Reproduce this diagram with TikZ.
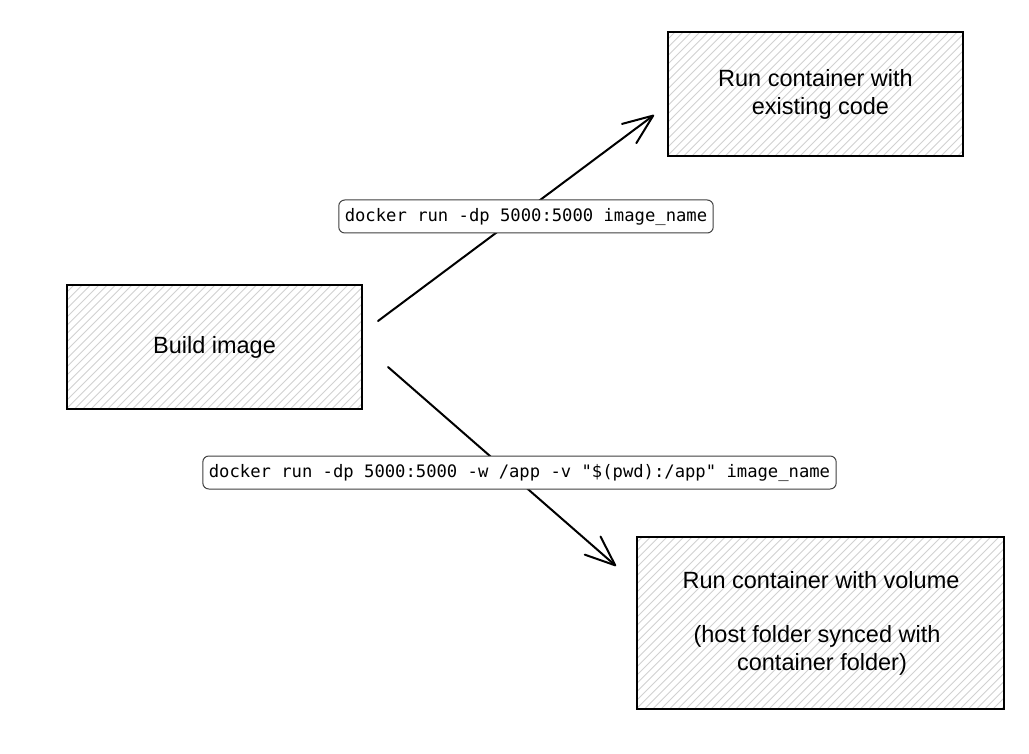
\documentclass[tikz,border=0pt]{standalone}
\usepackage{fontspec}
\setmainfont{Liberation Sans}
\newfontfamily\codefont{DejaVu Sans Mono}
\usetikzlibrary{arrows.meta,calc}
\tikzset{
  boxfont/.style={font=\fontsize{23.5}{28}\selectfont},
  hatchbox/.style={draw=black, line width=2pt, inner sep=0pt, align=center, boxfont},
  hatchline/.style={draw=black!18, line width=0.9pt},
  cmdlabel/.style={draw=black!75, line width=1pt, fill=white, rounded corners=6pt,
    inner xsep=6pt, inner ysep=0pt, minimum height=33pt,
    font=\codefont\fontsize{17.2}{20}\selectfont},
  flow/.style={line width=2pt, line cap=round,
    -{Straight Barb[length=30pt,width=24pt,line width=2pt,line join=round,line cap=round]}}
}
% hatch a rectangle given left, top, right, bottom (y grows downward)
\newcommand\hatchrect[4]{%
  \begin{scope}
    \clip (#1,#2) rectangle (#3,#4);
    \foreach \k in {0,...,76} \draw[hatchline] (#1-200+\k*8.3,#4) -- ++(200,-200);
  \end{scope}}
\begin{document}
\begin{tikzpicture}[x=1pt,y=-1pt]
\useasboundingbox (0,0) rectangle (1029,754);
\fill[white] (0,0) rectangle (1029,754);
\hatchrect{67}{285}{362}{409}
\hatchrect{668}{32}{963}{156}
\hatchrect{637}{537}{1004}{709}
\node[hatchbox, minimum width=295pt, minimum height=124pt] (build) at (214.5,347) {Build image};
\node[hatchbox, minimum width=295pt, minimum height=124pt] (plain) at (815.5,94) {Run container with\\\hspace*{10pt}existing code};
\node[hatchbox, minimum width=367pt, minimum height=172pt] (volume) at (820.5,623) {};
\node[boxfont, align=center] (vtext1) at (821,580) {Run container with volume};
\node[boxfont, align=center] (vtext2) at (817,650) {(host folder synced with\\\hspace*{10pt}container folder)};
\coordinate (s1) at (378,321);
\coordinate (e1) at (654,115);
\coordinate (s2) at (388,367);
\coordinate (e2) at (616,566);
\draw[flow] (s1) -- (e1);
\draw[flow] (s2) -- (e2);
\node[cmdlabel] (cmd1) at (526,216.5) {docker run -dp 5000:5000 image\_name};
\node[cmdlabel] (cmd2) at (519.5,472.5) {docker run -dp 5000:5000 -w /app -v "\$(pwd):/app" image\_name};
\end{tikzpicture}
\end{document}
